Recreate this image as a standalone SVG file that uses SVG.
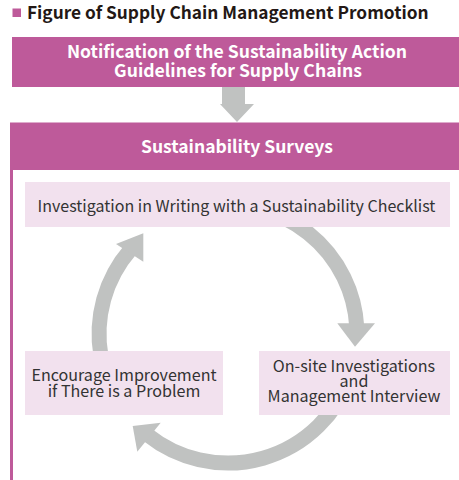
<svg xmlns="http://www.w3.org/2000/svg" width="459" height="480" viewBox="0 0 459 480">
<style>
.hdr{fill:#BE5A9A}
.step{fill:#F2E1EE}
.wt{fill:#FFFFFF;font-family:"Noto Sans CJK JP","Noto Sans",sans-serif;font-weight:bold;text-anchor:middle}
.tx{fill:#333333;font-family:"Noto Sans CJK JP","Noto Sans",sans-serif;text-anchor:middle}
.arc{fill:none;stroke:#C0C2C1;stroke-width:15}
.head{fill:#C0C2C1}
</style>
<rect x="0" y="0" width="459" height="480" fill="#FFFFFF"/>
<g id="title">
<rect x="12.5" y="8.5" width="8.5" height="8.5" class="hdr"/>
<text x="27" y="18.5" style="fill:#231815;font-family:'Noto Sans CJK JP','Noto Sans',sans-serif;font-weight:bold;font-size:17.3px">Figure of Supply Chain Management Promotion</text>
</g>
<g id="notification">
<rect x="12" y="37" width="460" height="50" class="hdr"/>
<text class="wt" x="237" y="58.3" font-size="17.6">Notification of the Sustainability Action</text>
<text class="wt" x="238" y="76.7" font-size="17.6">Guidelines for Supply Chains</text>
</g>
<g id="connectors-top">
<polygon class="head" points="222,87 245,87 245,104 254,104 237,122 220,104 222,104"/>
</g>
<g id="surveys">
<rect x="11.5" y="124" width="460" height="370" fill="none" stroke="#BE5A9A" stroke-width="3"/>
<rect x="10" y="123" width="460" height="47" class="hdr"/>
<text class="wt" x="237" y="153.3" font-size="17.5">Sustainability Surveys</text>
</g>
<g id="connectors">
<path class="arc" d="M205.6,207 A129,129 0 0 1 356.8,327.2"/>
<polygon class="head" points="337.3,323.3 375,323.3 355,346.7"/>
<path class="arc" d="M349.2,378.1 A129,129 0 0 1 147.7,435"/>
<polygon class="head" points="160.7,422.7 137.3,451.7 132.7,426"/>
<path class="arc" d="M101,356.4 A129,129 0 0 1 130.6,249.4"/>
<polygon class="head" points="116,244 143.3,261.7 143.3,233.3"/>
</g>
<g id="step-writing">
<rect x="25" y="182" width="425" height="45" class="step"/>
<text class="tx" x="236.5" y="211.7" font-size="16">Investigation in Writing with a Sustainability Checklist</text>
</g>
<g id="step-onsite">
<rect x="259" y="351" width="191" height="64" class="step"/>
<text class="tx" x="354" y="372.3" font-size="16.1">On-site Investigations</text>
<text class="tx" x="354" y="387.3" font-size="16.1">and</text>
<text class="tx" x="354" y="402.3" font-size="16.1">Management Interview</text>
</g>
<g id="step-improve">
<rect x="25" y="351" width="198" height="64" class="step"/>
<text class="tx" x="124" y="381.3" font-size="16.1">Encourage Improvement</text>
<text class="tx" x="124" y="396.7" font-size="16.1">if There is a Problem</text>
</g>
</svg>
